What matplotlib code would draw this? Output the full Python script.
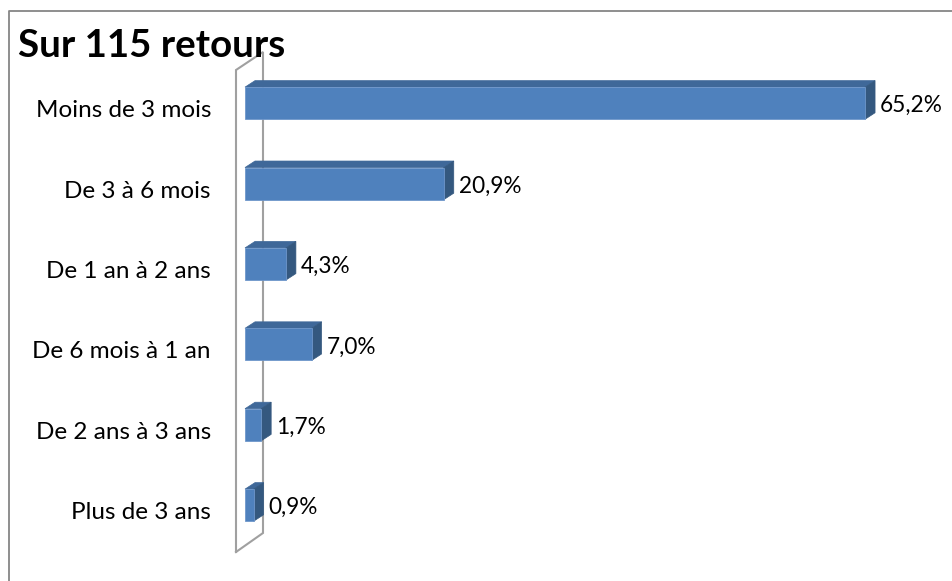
import matplotlib
matplotlib.use("Agg")
import matplotlib.pyplot as plt
from matplotlib.patches import Polygon
from matplotlib.lines import Line2D
from matplotlib.transforms import IdentityTransform

categories = ["Moins de 3 mois", "De 3 à 6 mois", "De 1 an à 2 ans",
              "De 6 mois à 1 an", "De 2 ans à 3 ans", "Plus de 3 ans"]
values = [65.2, 20.9, 4.3, 7.0, 1.7, 0.9]
value_labels = ["65,2%", "20,9%", "4,3%", "7,0%", "1,7%", "0,9%"]
title = "Sur 115 retours"

FONT = ["Lato", "DejaVu Sans"]
W, H = 952, 581
fig = plt.figure(figsize=(W / 100, H / 100), dpi=100)
fig.patch.set_facecolor("white")

ax = fig.add_axes([245 / W, 1 - 545.4 / H, 665.7 / W, 482.4 / H])
ax.set_xlim(0, 70)
ax.set_ylim(len(categories) - 0.5, -0.5)
ax.axis("off")

ident = IdentityTransform()
DX, DY = 10, 6.5          # depth offset of the bars (pixels)
front_c, top_c, side_c = "#4F81BD", "#3F6899", "#34587F"
bar_h = 0.4

fig.canvas.draw()
renderer = fig.canvas.get_renderer()
T = ax.transData

# back wall
x0d, _ = T.transform((0, 0))
_, ytop = T.transform((0, -0.5))
_, ybot = T.transform((0, len(categories) - 0.5))
wx_f, wx_b = x0d - 9, x0d + 18
wall = [(wx_f, H - 552), (wx_f, H - 70), (wx_b, H - 52), (wx_b, H - 533), (wx_f, H - 552)]
fig.add_artist(Line2D([p[0] for p in wall], [p[1] for p in wall], transform=ident,
                      color="#A0A0A0", lw=1.5, solid_joinstyle="miter", zorder=1))

cat_texts, val_texts = [], []
for i, (c, v, lab) in enumerate(zip(categories, values, value_labels)):
    xl, yt = T.transform((0, i - bar_h / 2))
    xr, yb = T.transform((v, i + bar_h / 2))
    front = [(xl, yb), (xr, yb), (xr, yt), (xl, yt)]
    top = [(xl, yt), (xr, yt), (xr + DX, yt + DY), (xl + DX, yt + DY)]
    side = [(xr, yb), (xr + DX, yb + DY), (xr + DX, yt + DY), (xr, yt)]
    fig.add_artist(Polygon(top, closed=True, transform=ident, facecolor=top_c,
                           edgecolor=top_c, lw=0.5, zorder=3))
    fig.add_artist(Polygon(side, closed=True, transform=ident, facecolor=side_c,
                           edgecolor=side_c, lw=0.5, zorder=3))
    fig.add_artist(Polygon(front, closed=True, transform=ident, facecolor=front_c,
                           edgecolor="#6F97CB", lw=0.6, zorder=4))
    yc = (yt + yb) / 2
    cat_texts.append(fig.text(211 / W, (yc - 7.5) / H, c, ha="right", va="center",
                              fontsize=16, family=FONT, color="black"))
    val_texts.append(fig.text((xr + DX + 5) / W, (yc - 2.5) / H, lab, ha="left",
                              va="center", fontsize=16, family=FONT, color="black"))

tt = fig.text(18 / W, (H - 57) / H, title, ha="left", va="baseline", fontsize=28,
              fontweight="bold", family=FONT, color="black")

# fit font sizes to the reference widths
def fit(group, idx, target):
    w = group[idx].get_window_extent(renderer).width
    s = group[idx].get_fontsize() * target / w
    for t in group:
        t.set_fontsize(s)

fit(cat_texts, 0, 176)
fit(val_texts, 0, 63)
fit([tt], 0, 267)

# chart border (top and left visible)
fig.add_artist(Line2D([9, 9, W], [0, H - 11, H - 11], transform=ident,
                      color="#868686", lw=1.3, zorder=5))

fig.savefig("out.png", dpi=100, facecolor="white")
